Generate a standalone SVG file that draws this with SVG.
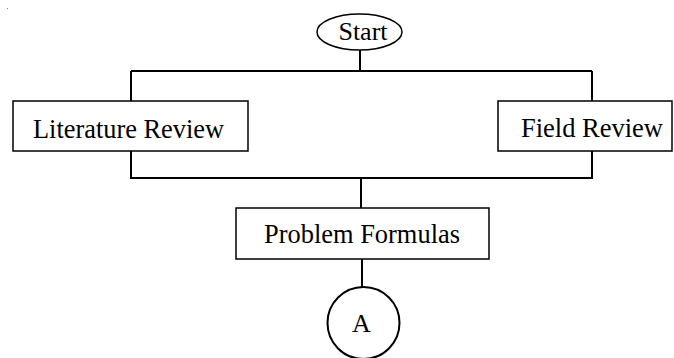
<svg xmlns="http://www.w3.org/2000/svg" width="674" height="358" viewBox="0 0 674 358">
<style>
.s{fill:#fff;stroke:#000;stroke-width:1.5}
.c{fill:none;stroke:#000;stroke-width:2}
text{font-family:"Liberation Serif","Times New Roman",serif;font-size:28px;fill:#000;text-anchor:middle}
</style>
<rect width="674" height="358" fill="#fff"/>
<rect x="7" y="8" width="1" height="1" fill="#888"/>
<g id="connectors">
<path class="c" d="M360 50V71M131 71H592M131 71V101M592 71V101"/>
<path class="c" d="M131 151V178H592V151M361 178V208"/>
<path class="c" d="M362 259V287"/>
</g>
<g id="start">
<ellipse class="s" cx="359.5" cy="32" rx="42.5" ry="18"/>
<text x="363" y="40" style="font-size:26px">Start</text>
</g>
<g id="literature">
<rect class="s" x="13" y="101" width="235" height="50"/>
<text x="128.5" y="138" textLength="191" lengthAdjust="spacingAndGlyphs">Literature Review</text>
</g>
<g id="field">
<rect class="s" x="498" y="101" width="174" height="50"/>
<text x="592" y="137" textLength="142" lengthAdjust="spacingAndGlyphs">Field Review</text>
</g>
<g id="problem">
<rect class="s" x="236" y="208" width="253" height="51"/>
<text x="362" y="243" textLength="196" lengthAdjust="spacingAndGlyphs">Problem Formulas</text>
</g>
<g id="a">
<circle class="c" cx="363.5" cy="323" r="36"/>
<text x="361.5" y="332" style="font-size:26px">A</text>
</g>
</svg>
